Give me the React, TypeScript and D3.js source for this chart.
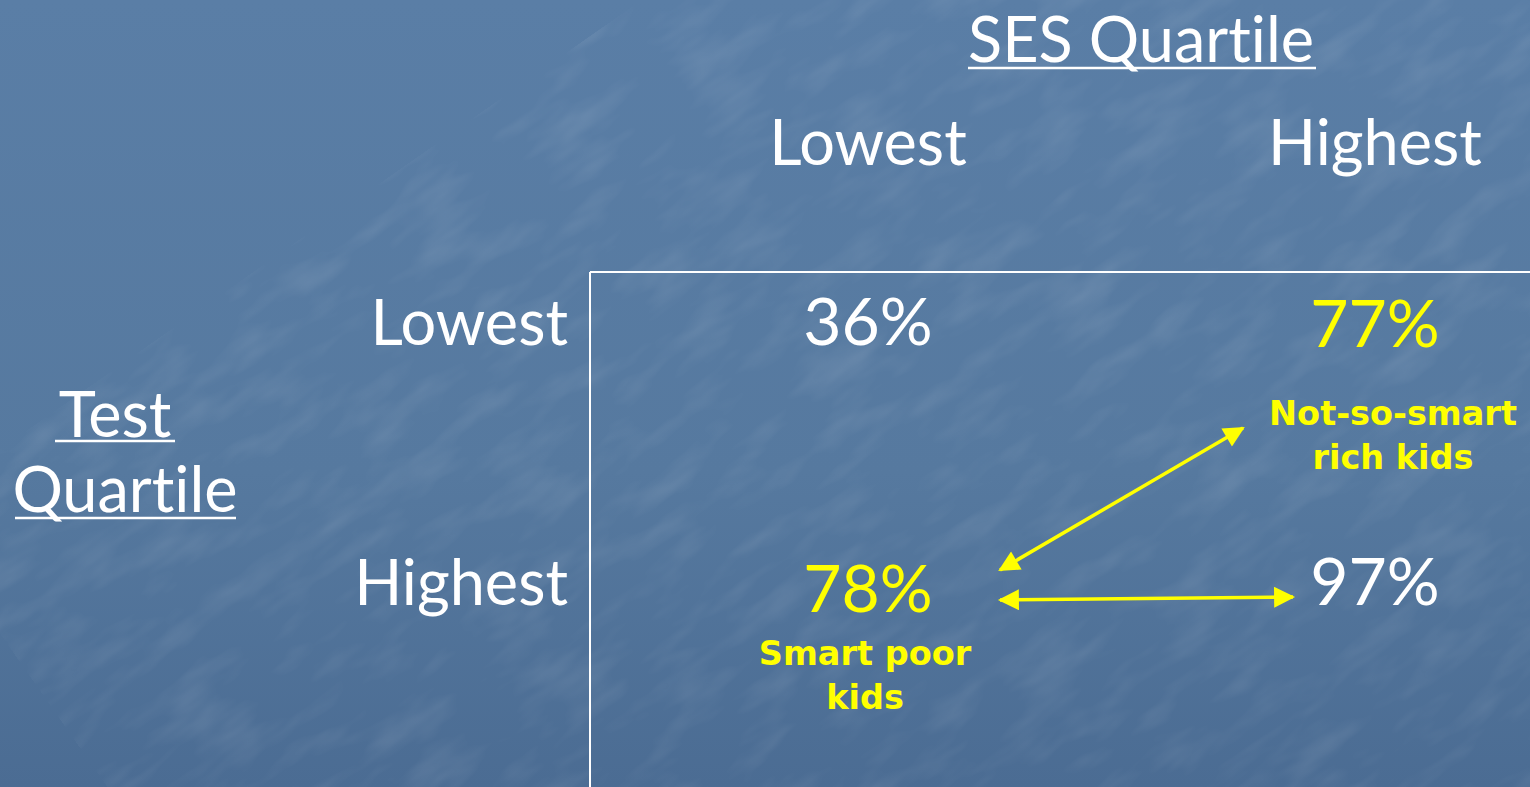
import React from "react";
import * as d3 from "d3";

const sesLevels = ["Lowest", "Highest"];
const testLevels = ["Lowest", "Highest"];
// values[testRow][sesCol]
const values = [
  [36, 77],
  [78, 97],
];
const highlighted = [
  [false, true],
  [true, false],
];
const notes = [
  { row: 0, col: 1, lines: ["Not-so-smart", "rich kids"] },
  { row: 1, col: 0, lines: ["Smart poor", "kids"] },
];

const W = 1530;
const H = 787;
const YELLOW = "#ffff00";
const thin = "Lato, 'Open Sans', sans-serif";
const bold = "'DejaVu Sans', Verdana, sans-serif";
const noLig = { fontVariantLigatures: "none" as const, fontFeatureSettings: "'liga' 0" };

export default function App() {
  const x = d3.scalePoint<string>().domain(sesLevels).range([868, 1375]);
  const y = d3.scalePoint<string>().domain(testLevels).range([345, 605]);

  const cells: any[] = [];
  testLevels.forEach((r, i) => {
    sesLevels.forEach((c, j) => {
      cells.push({ r, c, i, j, v: values[i][j], hl: highlighted[i][j] });
    });
  });

  const p77 = { x: x("Highest")!, y: y("Lowest")! };
  const p78 = { x: x("Lowest")!, y: y("Highest")! };
  const p97 = { x: x("Highest")!, y: y("Highest")! };

  return (
    <svg
      width={W}
      height={H}
      style={{ position: "absolute", left: 0, top: 0, display: "block" }}
    >
      <defs>
        <linearGradient id="bg" x1="0" y1="0" x2="0" y2="1">
          <stop offset="0" stopColor="#5a7ea6" />
          <stop offset="0.6" stopColor="#56799f" />
          <stop offset="1" stopColor="#4b6c93" />
        </linearGradient>
        <filter id="tex" x="0" y="0" width="100%" height="100%">
          <feTurbulence type="fractalNoise" baseFrequency="0.02 0.06" numOctaves="3" seed="4" />
          <feColorMatrix
            type="matrix"
            values="0 0 0 0 1  0 0 0 0 1  0 0 0 0 1  0 0 0 1.2 -0.55"
          />
        </filter>
        <marker id="ah" viewBox="0 0 10 10" refX="9" refY="5" markerWidth="6.5" markerHeight="6" orient="auto-start-reverse" markerUnits="strokeWidth">
          <path d="M0,0 L10,5 L0,10 z" fill={YELLOW} />
        </marker>
      </defs>
      <rect width={W} height={H} fill="url(#bg)" />
      <rect width={W} height={H} filter="url(#tex)" opacity={0.16} transform="rotate(-35 765 393) scale(1.6)" />

      <g style={noLig}>
        {/* Titles */}
        <text x={1141} y={62} fill="#fff" fontFamily={thin} fontSize={63} textAnchor="middle">SES Quartile</text>
        <line x1={968} x2={1316} y1={68} y2={68} stroke="#fff" strokeWidth={2.5} />
        <text x={115} y={437} fill="#fff" fontFamily={thin} fontSize={63} textAnchor="middle">Test</text>
        <line x1={55} x2={175} y1={441} y2={441} stroke="#fff" strokeWidth={2.5} />
        <text x={125} y={512} fill="#fff" fontFamily={thin} fontSize={63} textAnchor="middle">Quartile</text>
        <line x1={15} x2={236} y1={518} y2={518} stroke="#fff" strokeWidth={2.5} />

        {/* Column headers */}
        {sesLevels.map((c) => (
          <text key={"c" + c} x={x(c)} y={165} fill="#fff" fontFamily={thin} fontSize={63} textAnchor="middle">{c}</text>
        ))}
        {/* Row headers */}
        {testLevels.map((r) => (
          <text key={"r" + r} x={568} y={y(r)} fill="#fff" fontFamily={thin} fontSize={63} textAnchor="end">{r}</text>
        ))}
      </g>

      {/* Frame */}
      <line x1={590} x2={W} y1={272} y2={272} stroke="#fff" strokeWidth={2} />
      <line x1={590} x2={590} y1={272} y2={H} stroke="#fff" strokeWidth={2} />

      {/* Values */}
      {cells.map((d) => (
        <text
          key={d.i + "-" + d.j}
          x={x(d.c)}
          y={y(d.r)! + (d.hl ? (d.i === 1 ? 7 : 2) : 0)}
          fill={d.hl ? YELLOW : "#fff"}
          fontFamily={thin}
          fontSize={66}
          textAnchor="middle"
        >
          {d.v}%
        </text>
      ))}

      {/* Notes */}
      {notes.map((n, k) => {
        const nx = x(sesLevels[n.col])! + (n.col === 1 ? 18 : -3);
        return (
          <text
            key={"n" + k}
            x={nx}
            y={y(testLevels[n.row])! + (n.row === 0 ? 80 : 60)}
            fill={YELLOW}
            fontFamily={bold}
            fontWeight="bold"
            fontSize={33.5}
            textAnchor="middle"
          >
            {n.lines.map((l, li) => (
              <tspan key={li} x={nx} dy={li === 0 ? 0 : 44}>{l}</tspan>
            ))}
          </text>
        );
      })}

      {/* Arrows */}
      <line
        x1={p78.x + 132} y1={p78.y - 35}
        x2={p77.x - 132} y2={p77.y + 83}
        stroke={YELLOW} strokeWidth={3.5}
        markerStart="url(#ah)" markerEnd="url(#ah)"
      />
      <line
        x1={p78.x + 132} y1={p78.y - 5}
        x2={p97.x - 82} y2={p97.y - 8}
        stroke={YELLOW} strokeWidth={3.5}
        markerStart="url(#ah)" markerEnd="url(#ah)"
      />
    </svg>
  );
}
